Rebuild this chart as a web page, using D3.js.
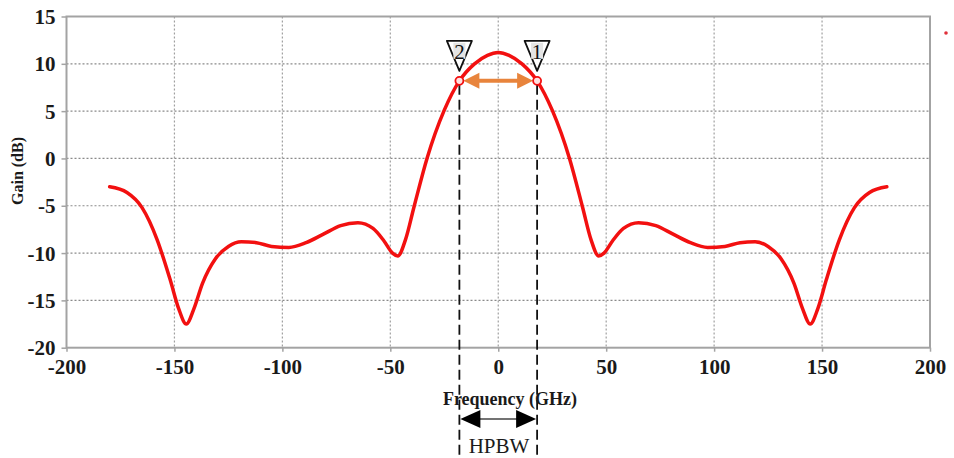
<!DOCTYPE html>
<meta charset="utf-8">
<script src="https://d3js.org/d3.v7.min.js"></script>
<style>
	body{
		margin:0;
		background:#fff;
		font-family:'Liberation Serif', 'Times New Roman', serif;
	}
</style>
<div id="chart"></div>
<script>

	// gain pattern
	var freq = [-180,-172,-165,-158,-152,-148,-144.5,-141,-137,-131,-125,-119,-112,-105,-97,-89,-81,-73,-65,-58,-53,-49,-46.5,-43,-39,-33,-25,-18,-11,-5,0,
		5,11,18,25,33,39,43,46.5,49,53,58,65,73,81,89,97,105,112,119,125,131,137,141,144.5,148,152,158,165,172,180]
	var gain = [-3.0,-3.6,-5.2,-8.6,-12.8,-15.9,-17.5,-15.9,-13.2,-10.6,-9.3,-8.8,-8.9,-9.3,-9.4,-8.9,-8.0,-7.1,-6.8,-7.4,-8.7,-10.0,-10.3,-8.6,-5.1,0,5.1,8.2,10.0,10.9,11.2,
		10.9,10.0,8.2,5.1,0,-5.1,-8.6,-10.3,-10.0,-8.7,-7.4,-6.8,-7.1,-8.0,-8.9,-9.4,-9.3,-8.9,-8.8,-9.3,-10.6,-13.2,-15.9,-17.5,-15.9,-12.8,-8.6,-5.2,-3.6,-3.0]

	var xTicks = [-200,-150,-100,-50,0,50,100,150,200]
	var yTicks = [-20,-15,-10,-5,0,5,10,15]

	// half power markers
	var markerFreq = [-18, 18]
	var markerGain = [8.2, 8.2]
	var markerLabel = ["2","1"]

	var w = 954
	var h = 458

	var svg = d3.select("#chart").append("svg")
		.attr("width",w)
		.attr("height",h)

	var x = d3.scaleLinear().domain([-200,200]).range([66.5,930])
	var y = d3.scaleLinear().domain([-20,15]).range([347.7,16.5])

	// grid
	svg.append("g")
		.selectAll("line")
		.data(yTicks.slice(1,-1))
		.join("line")
		.attr("x1",x(-200)).attr("x2",x(200))
		.attr("y1",function(d){return y(d)}).attr("y2",function(d){return y(d)})
		.attr("stroke","#8a8a8a").attr("stroke-width",1.2).attr("stroke-dasharray","2,2")
	svg.append("g")
		.selectAll("line")
		.data(xTicks.slice(1,-1))
		.join("line")
		.attr("x1",function(d){return x(d)}).attr("x2",function(d){return x(d)})
		.attr("y1",y(15)).attr("y2",y(-20))
		.attr("stroke","#a0a0a0").attr("stroke-width",1.2).attr("stroke-dasharray","2,2")

	// frame
	svg.append("rect")
		.attr("x",x(-200)).attr("y",y(15))
		.attr("width",x(200)-x(-200)).attr("height",y(-20)-y(15))
		.attr("fill","none").attr("stroke","#a3a3a3").attr("stroke-width",2)

	// axes
	var fmt = function(d){ return String(d) }
	var xAxis = svg.append("g")
		.attr("transform","translate(0,"+y(-20)+")")
		.call(d3.axisBottom(x).tickValues(xTicks).tickSize(4).tickPadding(6).tickFormat(fmt))
	var yAxis = svg.append("g")
		.attr("transform","translate("+x(-200)+",0)")
		.call(d3.axisLeft(y).tickValues(yTicks).tickSize(5).tickPadding(6).tickFormat(fmt))

	svg.selectAll(".domain").remove()
	svg.selectAll(".tick line").attr("stroke","#a3a3a3").attr("stroke-width",1.5)
	svg.selectAll(".tick text")
		.attr("fill","#1a1a1a")
		.style("font-family","'Liberation Serif', serif")
		.style("font-weight","bold")
		.style("font-size","21px")
	yAxis.selectAll(".tick text").attr("dy","0.34em")
	xAxis.selectAll(".tick text").attr("dy","0.8em")

	svg.append("text")
		.text("Gain (dB)")
		.attr("transform","translate(23,171) rotate(-90)")
		.attr("text-anchor","middle")
		.style("font-weight","bold")
		.style("font-size","16px")
		.attr("fill","#1a1a1a")

	// curve
	var line = d3.line()
		.x(function(d,i){return x(freq[i])})
		.y(function(d,i){return y(gain[i])})
		.curve(d3.curveMonotoneX)

	svg.append("path")
		.datum(gain)
		.attr("d",line)
		.attr("fill","none")
		.attr("stroke","#f21010")
		.attr("stroke-width",3.5)
		.attr("stroke-linejoin","round")
		.attr("stroke-linecap","round")

	// dashed verticals
	svg.append("g")
		.selectAll("line")
		.data(markerFreq)
		.join("line")
		.attr("x1",function(d){return x(d)}).attr("x2",function(d){return x(d)})
		.attr("y1",function(d,i){return y(markerGain[i])+4}).attr("y2",458)
		.attr("stroke","#111").attr("stroke-width",1.8).attr("stroke-dasharray","10,5")

	// orange arrow between markers
	var ay = y(markerGain[0])
	var ax1 = x(markerFreq[0])+4
	var ax2 = x(markerFreq[1])-4
	var orange = "#e8843c"
	svg.append("line")
		.attr("x1",ax1+10).attr("x2",ax2-10)
		.attr("y1",ay).attr("y2",ay)
		.attr("stroke",orange).attr("stroke-width",4)
	svg.append("path")
		.attr("d","M"+ax1+","+ay+" L"+(ax1+16)+","+(ay-8)+" L"+(ax1+16)+","+(ay+8)+" Z")
		.attr("fill",orange)
	svg.append("path")
		.attr("d","M"+ax2+","+ay+" L"+(ax2-16)+","+(ay-8)+" L"+(ax2-16)+","+(ay+8)+" Z")
		.attr("fill",orange)

	// marker circles
	svg.append("g")
		.selectAll("circle")
		.data(markerFreq)
		.join("circle")
		.attr("cx",function(d){return x(d)})
		.attr("cy",function(d,i){return y(markerGain[i])})
		.attr("r",4)
		.attr("fill","#ffe0e0")
		.attr("stroke","#f21010")
		.attr("stroke-width",1.8)

	// triangle flags
	var tri = svg.append("g")
		.selectAll("g")
		.data(markerFreq)
		.join("g")
		.attr("transform",function(d,i){return "translate("+x(d)+","+(y(markerGain[i])-10)+")"})
	tri.append("path")
		.attr("d","M0,0 L-12.5,-30 L12.5,-30 Z")
		.attr("fill","#fff")
		.attr("stroke","#111")
		.attr("stroke-width",1.8)
		.attr("stroke-linejoin","round")
	tri.append("rect")
		.attr("x",-6).attr("y",-28).attr("width",12).attr("height",16)
		.attr("fill","#e4e4e4")
	tri.append("text")
		.text(function(d,i){return markerLabel[i]})
		.attr("x",0).attr("y",-12)
		.attr("text-anchor","middle")
		.style("font-size","21px")
		.attr("fill","#111")

	// bottom annotation
	svg.append("text")
		.text("Frequency (GHz)")
		.attr("x",510).attr("y",405)
		.attr("text-anchor","middle")
		.style("font-weight","bold")
		.style("font-size","18px")
		.attr("fill","#1a1a1a")

	var by = 419
	var bx1 = x(markerFreq[0])+1
	var bx2 = x(markerFreq[1])-1
	svg.append("line")
		.attr("x1",bx1+15).attr("x2",bx2-15)
		.attr("y1",by).attr("y2",by)
		.attr("stroke","#444").attr("stroke-width",1.5)
	svg.append("path")
		.attr("d","M"+bx1+","+by+" L"+(bx1+20)+","+(by-9)+" L"+(bx1+20)+","+(by+9)+" Z")
		.attr("fill","#000")
	svg.append("path")
		.attr("d","M"+bx2+","+by+" L"+(bx2-20)+","+(by-9)+" L"+(bx2-20)+","+(by+9)+" Z")
		.attr("fill","#000")

	svg.append("text")
		.text("HPBW")
		.attr("x",499).attr("y",453)
		.attr("text-anchor","middle")
		.style("font-size","21px")
		.attr("fill","#1a1a1a")

	// stray red dot on the right
	svg.append("circle")
		.attr("cx",946).attr("cy",33).attr("r",1.8).attr("fill","#e0303a")

</script>
